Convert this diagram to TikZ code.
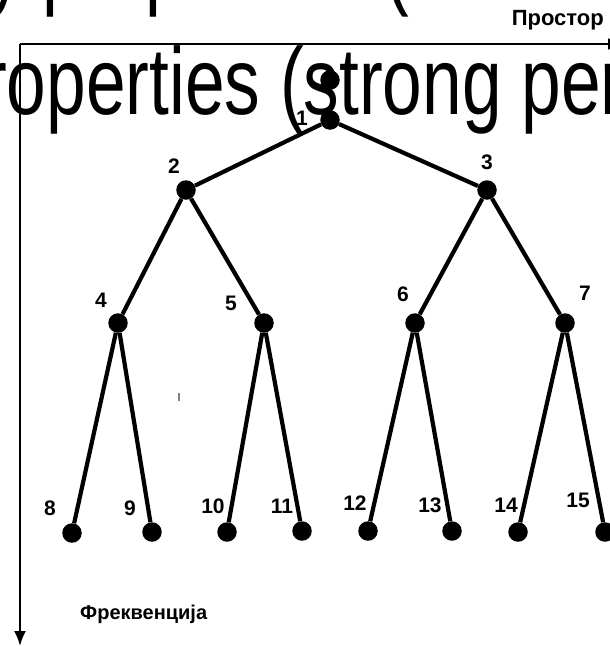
\documentclass[tikz,border=0pt]{standalone}
\usepackage{fontspec}
\setmainfont{Liberation Sans}
\usetikzlibrary{arrows.meta}
\begin{document}
\begin{tikzpicture}[x=1pt,y=-1pt,
  dotnode/.style={circle,fill=black,inner sep=0pt,minimum size=19.5pt},
  lbl/.style={font=\fontsize{21}{21}\selectfont\bfseries,inner sep=0pt},
  axlbl/.style={font=\fontsize{20}{20}\selectfont\bfseries,inner sep=0pt},
  edge/.style={line width=4.2pt},
  axis/.style={line width=2pt},
  bigtxt/.style={font=\fontsize{95}{95}\selectfont,xscale=0.75,inner sep=0pt,anchor=base west}]
\useasboundingbox (0,0) rectangle (610,646);
\clip (0,0) rectangle (610,646);
% background text lines
\node[bigtxt] (t1) at (-13,-3) {y properties\hspace{35pt}(};
\node[bigtxt] (t2) at (-17,114) {roperties (strong per};
% axes
\coordinate (o) at (20,44);
\coordinate (xend) at (623,44);
\coordinate (yend) at (20,646);
\draw[axis,-{Latex[length=15pt,width=12pt]}] (o) -- (xend);
\draw[axis,-{Latex[length=15pt,width=12pt]}] (o) -- (yend);
\node[axlbl,anchor=east,font=\fontsize{22}{22}\selectfont\bfseries] (xl) at (604,20) {Простор};
\node[axlbl,anchor=west] (yl) at (80,614) {Фреквенција};
% tick mark
\draw[gray,line width=1.2pt] (179,393) -- (179,401);
% tree nodes
\node[dotnode] (n0) at (330,80) {};
\node[dotnode] (n1) at (330,120) {};
\node[dotnode] (n2) at (186,190) {};
\node[dotnode] (n3) at (487,190) {};
\node[dotnode] (n4) at (118,323) {};
\node[dotnode] (n5) at (264,323) {};
\node[dotnode] (n6) at (415,323) {};
\node[dotnode] (n7) at (565,323) {};
\node[dotnode] (n8) at (72,533) {};
\node[dotnode] (n9) at (152,532) {};
\node[dotnode] (n10) at (227,532) {};
\node[dotnode] (n11) at (302,531) {};
\node[dotnode] (n12) at (368,531) {};
\node[dotnode] (n13) at (452,531) {};
\node[dotnode] (n14) at (518,532) {};
\node[dotnode] (n15) at (605,532) {};
% edges
\draw[edge] (n1) -- (n2);
\draw[edge] (n1) -- (n3);
\draw[edge] (n2) -- (n4);
\draw[edge] (n2) -- (n5);
\draw[edge] (n3) -- (n6);
\draw[edge] (n3) -- (n7);
\draw[edge] (n4) -- (n8);
\draw[edge] (n4) -- (n9);
\draw[edge] (n5) -- (n10);
\draw[edge] (n5) -- (n11);
\draw[edge] (n6) -- (n12);
\draw[edge] (n6) -- (n13);
\draw[edge] (n7) -- (n14);
\draw[edge] (n7) -- (n15);
% labels
\node[lbl] (l1) at (302,118) {1};
\node[lbl] (l2) at (174,166) {2};
\node[lbl] (l3) at (487,162) {3};
\node[lbl] (l4) at (101,300) {4};
\node[lbl] (l5) at (231,303) {5};
\node[lbl] (l6) at (403,294) {6};
\node[lbl] (l7) at (585,293) {7};
\node[lbl] (l8) at (50,508) {8};
\node[lbl] (l9) at (130,508) {9};
\node[lbl] (l10) at (213,506) {10};
\node[lbl] (l11) at (282,506) {11};
\node[lbl] (l12) at (355,503) {12};
\node[lbl] (l13) at (430,505) {13};
\node[lbl] (l14) at (506,505) {14};
\node[lbl] (l15) at (578,500) {15};
\end{tikzpicture}
\end{document}
